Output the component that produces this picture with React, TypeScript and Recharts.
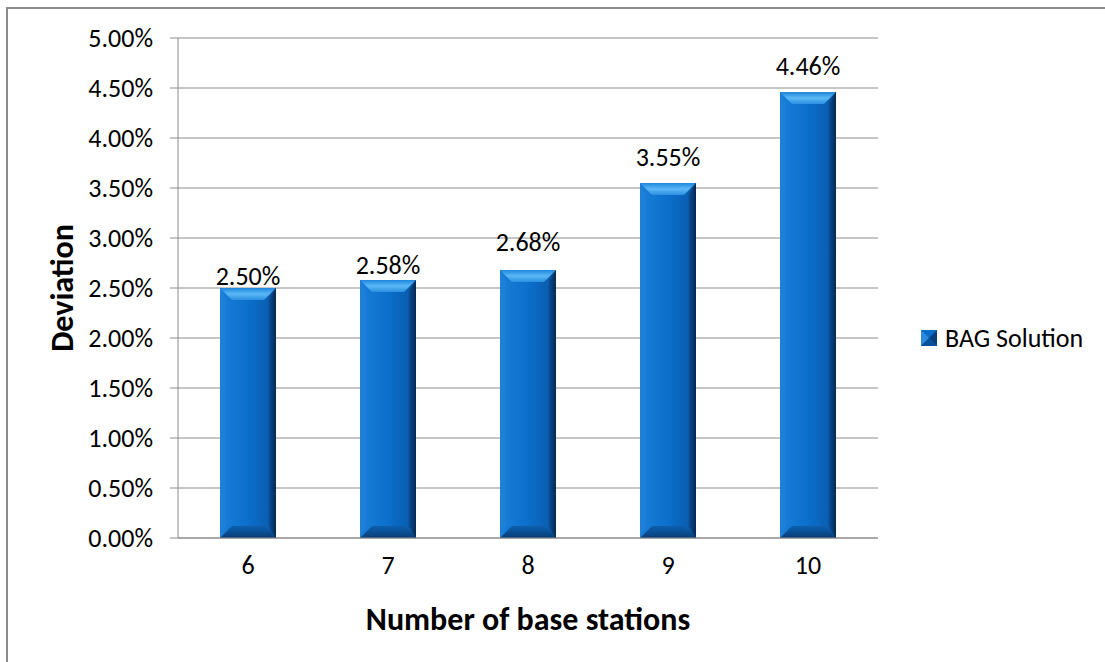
import { Bar, BarChart, CartesianGrid, LabelList, Legend, XAxis, YAxis } from "recharts";

const categories = ["6", "7", "8", "9", "10"];
const bagSolution = [0.025, 0.0258, 0.0268, 0.0355, 0.0446];
const yTicks = [0, 0.005, 0.01, 0.015, 0.02, 0.025, 0.03, 0.035, 0.04, 0.045, 0.05];

const data = categories.map((c, i) => ({ name: c, bag: bagSolution[i] }));

// gap between each value label's baseline and its bar top (Excel nudged the low ones down)
const labelGaps = [3, 6, 19, 17, 17];

const FONT = "Carlito, Calibri, Lato, 'Open Sans', sans-serif";
const pct = (v: number) => `${(v * 100).toFixed(2)}%`;

function BevelBar(props: any) {
  const { x, y, width, height } = props;
  if (!height || height <= 0) return null;
  const b = Math.min(12, height / 3);
  const r = x + width;
  const bot = y + height;
  return (
    <g>
      <rect x={x} y={y} width={width} height={height} fill="url(#barBody)" />
      {/* top cap */}
      <polygon points={`${x},${y} ${r},${y} ${r - b},${y + b} ${x + b},${y + b}`} fill="url(#barTop)" />
      {/* right side */}
      <polygon points={`${r},${y} ${r},${bot} ${r - b * 0.6},${bot - b} ${r - b * 0.6},${y + b}`} fill="url(#barRight)" />
      {/* left side */}
      <polygon points={`${x},${y} ${x + b * 0.5},${y + b} ${x + b * 0.5},${bot - b} ${x},${bot}`} fill="#1f7fd6" opacity={0.8} />
      {/* bottom cap */}
      <polygon points={`${x},${bot} ${x + b},${bot - b} ${r - b},${bot - b} ${r},${bot}`} fill="url(#barBottom)" />
    </g>
  );
}

function ValueLabel(props: any) {
  const { x, y, width, value, index } = props;
  const gap = labelGaps[index] ?? 10;
  return (
    <text x={x + width / 2} y={y - gap} textAnchor="middle" fontFamily={FONT} fontSize={26} fill="#000">
      {pct(Number(value))}
    </text>
  );
}

function LegendContent() {
  return (
    <div style={{ display: "flex", alignItems: "center", fontFamily: FONT, fontSize: 26, color: "#000", lineHeight: "32px" }}>
      <svg width={16} height={16} style={{ marginRight: 8 }}>
        <rect x={0} y={0} width={16} height={16} fill="#0b6cc6" />
        <polygon points="0,0 8,8 0,16" fill="#2b8ade" />
        <polygon points="16,0 8,8 16,16" fill="#0a3f7e" />
        <polygon points="0,16 8,8 16,16" fill="#0a4f99" />
      </svg>
      <span>BAG Solution</span>
    </div>
  );
}

export default function App() {
  return (
    <div style={{ position: "absolute", left: 0, top: 0, width: 1105, height: 662, background: "#fff", overflow: "hidden" }}>
      <div style={{ position: "absolute", left: 0, top: 0 }}>
        <BarChart
          width={1105}
          height={662}
          data={data}
          margin={{ top: 38, right: 27, bottom: 0, left: 0 }}
        >
          <defs>
            <linearGradient id="barBody" x1="0" y1="0" x2="1" y2="0">
              <stop offset="0" stopColor="#1a7fd8" />
              <stop offset="0.5" stopColor="#0b6fcb" />
              <stop offset="0.85" stopColor="#0a5fb2" />
              <stop offset="1" stopColor="#0a3a72" />
            </linearGradient>
            <linearGradient id="barTop" x1="0" y1="0" x2="0" y2="1">
              <stop offset="0" stopColor="#1f86de" />
              <stop offset="0.5" stopColor="#5ab8f5" />
              <stop offset="1" stopColor="#2b8fe2" />
            </linearGradient>
            <linearGradient id="barRight" x1="0" y1="0" x2="1" y2="0">
              <stop offset="0" stopColor="#0a4f99" />
              <stop offset="1" stopColor="#06284f" />
            </linearGradient>
            <linearGradient id="barBottom" x1="0" y1="0" x2="0" y2="1">
              <stop offset="0" stopColor="#0c5fae" />
              <stop offset="1" stopColor="#083e78" />
            </linearGradient>
          </defs>
          <CartesianGrid vertical={false} stroke="#8c8c8c" strokeWidth={1} />
          <XAxis
            dataKey="name"
            axisLine={{ stroke: "#8c8c8c" }}
            tickLine={false}
            tick={{ fontFamily: FONT, fontSize: 26, fill: "#000" }}
            tickMargin={12}
            label={{
              value: "Number of base stations",
              position: "insideBottom",
              offset: 32,
              style: { fontFamily: FONT, fontSize: 32, fontWeight: 700, fill: "#000" },
            }}
            height={124}
          />
          <YAxis
            width={178}
            domain={[0, 0.05]}
            ticks={yTicks}
            tickFormatter={pct}
            axisLine={{ stroke: "#8c8c8c" }}
            tickLine={{ stroke: "#8c8c8c" }}
            tickSize={8}
            tickMargin={17}
            interval={0}
            tick={{ fontFamily: FONT, fontSize: 26, fill: "#000" }}
            label={{
              value: "Deviation",
              angle: -90,
              position: "insideLeft",
              offset: 62,
              style: { fontFamily: FONT, fontSize: 32, fontWeight: 700, fill: "#000", textAnchor: "middle" },
            }}
          />
          <Legend
            layout="vertical"
            align="right"
            verticalAlign="middle"
            content={<LegendContent />}
            wrapperStyle={{ left: 921, top: 322, width: 200 }}
          />
          <Bar dataKey="bag" name="BAG Solution" barSize={56} shape={<BevelBar />} isAnimationActive={false}>
            <LabelList dataKey="bag" content={<ValueLabel />} />
          </Bar>
        </BarChart>
      </div>
      {/* frame: only its top and left edges fall inside the picture */}
      <div style={{ position: "absolute", left: 6, top: 7, width: 1099, height: 2, background: "#8c8c8c", zIndex: 2 }} />
      <div style={{ position: "absolute", left: 6, top: 7, width: 2, height: 655, background: "#8c8c8c", zIndex: 2 }} />
    </div>
  );
}
